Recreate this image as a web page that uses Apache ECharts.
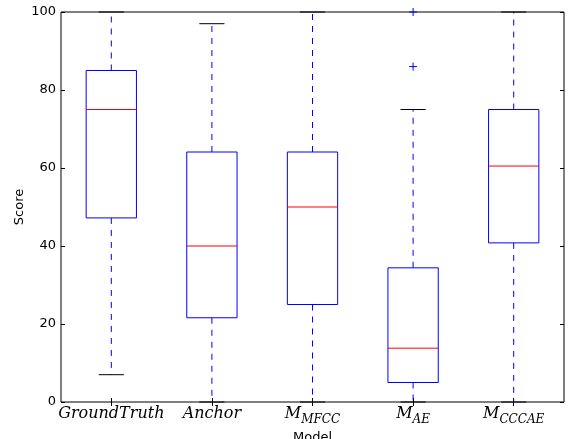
<!DOCTYPE html>
<html>
<head>
<meta charset="utf-8">
<script src="https://cdn.jsdelivr.net/npm/echarts@6/dist/echarts.min.js"></script>
<style>
html,body{margin:0;padding:0;background:#fff;overflow:hidden;}
#c{width:568px;height:439px;}
</style>
</head>
<body>
<div id="c"></div>
<script>
// ---- data ----
const categories = ['GroundTruth', 'Anchor', 'M_MFCC', 'M_AE', 'M_CCCAE'];
const labelMain = ['GroundTruth', 'Anchor', 'M', 'M', 'M'];
const labelSub = ['', '', 'MFCC', 'AE', 'CCCAE'];
const lowerWhisker = [7, 0, 0, 0, 0];
const q1 = [47.2, 21.6, 25, 5, 40.8];
const median = [75, 40, 50, 13.8, 60.5];
const q3 = [85, 64.1, 64.1, 34.4, 75];
const upperWhisker = [100, 97, 100, 75, 100];
const outliers = [[3, 86], [3, 100]]; // [category index, value]
const yTicks = [0, 20, 40, 60, 80, 100];

const boxData = categories.map((c, i) => [i, lowerWhisker[i], q1[i], median[i], q3[i], upperWhisker[i]]);

const chart = echarts.init(document.getElementById('c'), null, {renderer: 'canvas'});

function renderBox(params, api) {
  const idx = api.value(0);
  const lo = api.coord([idx, api.value(1)]);
  const b1 = api.coord([idx, api.value(2)]);
  const md = api.coord([idx, api.value(3)]);
  const b3 = api.coord([idx, api.value(4)]);
  const hi = api.coord([idx, api.value(5)]);
  const band = api.size([1, 0])[0];
  const hw = band * 0.25;
  const cw = band * 0.125;
  const x = lo[0];
  const blue = '#0000ff';
  const dash = {stroke: blue, lineWidth: 1, lineDash: [6, 6], fill: null};
  return {
    type: 'group',
    children: [
      {type: 'line', shape: {x1: x, y1: b1[1], x2: x, y2: lo[1]}, style: dash},
      {type: 'line', shape: {x1: x, y1: b3[1], x2: x, y2: hi[1]}, style: dash},
      {type: 'line', shape: {x1: x - cw, y1: lo[1], x2: x + cw, y2: lo[1]}, style: {stroke: '#000', lineWidth: 1}},
      {type: 'line', shape: {x1: x - cw, y1: hi[1], x2: x + cw, y2: hi[1]}, style: {stroke: '#000', lineWidth: 1}},
      {type: 'rect', shape: {x: x - hw, y: b3[1], width: hw * 2, height: b1[1] - b3[1]},
        style: {stroke: blue, lineWidth: 1, fill: null}},
      {type: 'line', shape: {x1: x - hw, y1: md[1], x2: x + hw, y2: md[1]}, style: {stroke: '#ff0000', lineWidth: 1}}
    ]
  };
}

function renderFlier(params, api) {
  const p = api.coord([api.value(0), api.value(1)]);
  const s = 4;
  const st = {stroke: '#0000ff', lineWidth: 1};
  return {
    type: 'group',
    children: [
      {type: 'line', shape: {x1: p[0] - s, y1: p[1], x2: p[0] + s, y2: p[1]}, style: st},
      {type: 'line', shape: {x1: p[0], y1: p[1] - s, x2: p[0], y2: p[1] + s}, style: st}
    ]
  };
}

const serif = '"DejaVu Serif", "Liberation Serif", serif';
const sans = '"DejaVu Sans", sans-serif';

const option = {
  animation: false,
  backgroundColor: '#fff',
  grid: {left: 61, right: 4, top: 12, bottom: 37, containLabel: false, outerBoundsMode: 'none',
    show: true, borderColor: '#000', borderWidth: 1, backgroundColor: 'transparent'},
  xAxis: [{
    type: 'category',
    data: categories,
    position: 'bottom',
    name: 'Model',
    nameLocation: 'middle',
    nameGap: 29,
    nameMoveOverlap: false,
    nameTextStyle: {fontFamily: sans, fontSize: 13, color: '#000'},
    axisLine: {show: false},
    axisTick: {show: true, inside: true, alignWithLabel: true, length: 4, lineStyle: {color: '#000'}},
    splitLine: {show: false},
    axisLabel: {
      interval: 0,
      margin: 4,
      color: '#000',
      formatter: function (v, i) {
        const sub = labelSub[i];
        return '{m|' + labelMain[i] + '}' + (sub ? '{s|' + sub + '}' : '');
      },
      rich: {
        m: {fontFamily: serif, fontStyle: 'italic', fontSize: 16, color: '#000', lineHeight: 20, verticalAlign: 'top'},
        s: {fontFamily: serif, fontStyle: 'italic', fontSize: 12, color: '#000', lineHeight: 14, verticalAlign: 'bottom', padding: [10, 0, 0, 0]}
      }
    }
  }, {
    type: 'category',
    data: categories,
    position: 'top',
    axisLine: {show: false},
    axisTick: {show: true, inside: true, alignWithLabel: true, length: 4, lineStyle: {color: '#000'}},
    axisLabel: {show: false},
    splitLine: {show: false}
  }],
  yAxis: [{
    type: 'value',
    min: 0, max: 100, interval: 20,
    name: 'Score',
    nameLocation: 'middle',
    nameGap: 35,
    nameMoveOverlap: false,
    nameTextStyle: {fontFamily: sans, fontSize: 13, color: '#000'},
    axisLine: {show: false},
    axisTick: {show: true, inside: true, length: 4, lineStyle: {color: '#000'}},
    splitLine: {show: false},
    axisLabel: {margin: 5, fontFamily: sans, fontSize: 13, color: '#000',
      formatter: v => yTicks.indexOf(v) >= 0 ? String(v) : ''}
  }, {
    type: 'value',
    min: 0, max: 100, interval: 20,
    position: 'right',
    axisLine: {show: false},
    axisTick: {show: true, inside: true, length: 4, lineStyle: {color: '#000'}},
    splitLine: {show: false},
    axisLabel: {show: false}
  }],
  series: [{
    type: 'custom',
    xAxisIndex: 0, yAxisIndex: 0,
    data: boxData,
    encode: {x: 0, y: [1, 2, 3, 4, 5]},
    renderItem: renderBox,
    clip: false
  }, {
    type: 'custom',
    xAxisIndex: 0, yAxisIndex: 0,
    data: outliers,
    encode: {x: 0, y: 1},
    renderItem: renderFlier,
    clip: false
  }]
};
chart.setOption(option);
</script>
</body>
</html>
